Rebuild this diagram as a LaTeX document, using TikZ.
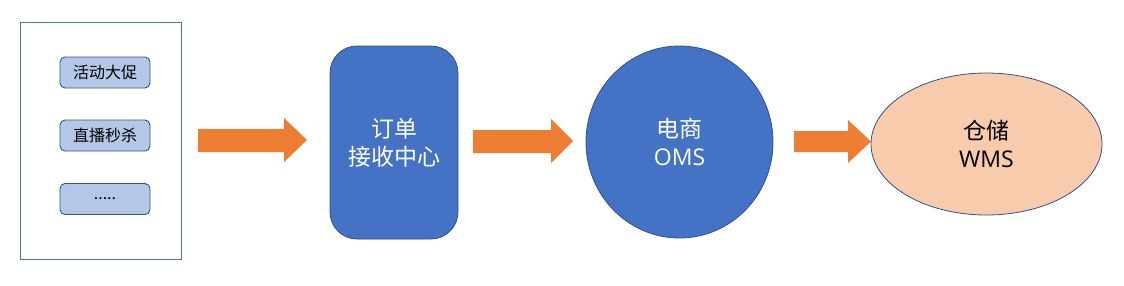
\documentclass[tikz,border=0pt]{standalone}
\usepackage{fontspec}
\setmainfont{Noto Sans CJK SC}
\newfontfamily\latinfont{Open Sans}
\usetikzlibrary{positioning}
\definecolor{boxblue}{HTML}{4472C4}
\definecolor{boxedge}{HTML}{2F528F}
\definecolor{lightblue}{HTML}{B4C7E7}
\definecolor{lightedge}{HTML}{2F5597}
\definecolor{orangearrow}{HTML}{ED7D31}
\definecolor{peach}{HTML}{F8CBAD}
\tikzset{
  smallbox/.style={draw=lightedge, fill=lightblue, line width=0.9pt, rounded corners=5pt,
    minimum width=90pt, minimum height=31pt, inner sep=0pt, font=\fontsize{16}{18}\selectfont},
  bigtext/.style={align=center, font=\fontsize{23}{28}\selectfont},
  blockarrow/.style={fill=orangearrow, draw=none}
}
\begin{document}
\begin{tikzpicture}[x=1pt,y=-1pt]
\useasboundingbox (0,0) rectangle (1124,285);
% container
\node[draw=boxblue, line width=0.8pt, minimum width=161pt, minimum height=237pt, inner sep=0pt] (frame) at (100.5,140.5) {};
\node[smallbox] (a1) at (105,72.5) {活动大促};
\node[smallbox] (a2) at (105,135.5) {直播秒杀};
\node[smallbox] (a3) at (105,199) {.....};
% arrow 1
\fill[blockarrow] (198,129) -- (284,129) -- (284,118) -- (307,140) -- (284,162) -- (284,152) -- (198,152) -- cycle;
% order center
\node[draw=boxedge, fill=boxblue, line width=0.8pt, rounded corners=27pt, minimum width=128pt, minimum height=193pt, inner sep=0pt] (rc) at (394,142.5) {};
\node[bigtext, text=white] (rct) at (rc.center) {订单\\接收中心};
% arrow 2
\fill[blockarrow] (473,130) -- (551,130) -- (551,119) -- (573,141) -- (551,163) -- (551,153) -- (473,153) -- cycle;
% OMS
\draw[draw=boxedge, fill=boxblue, line width=0.8pt] (679.5,142) ellipse [x radius=93.5, y radius=96];
\node[bigtext, text=white] (oms) at (679.5,142) {电商\\{\latinfont OMS}};
% arrow 3
\fill[blockarrow] (794,131) -- (848,131) -- (848,120) -- (871,141.5) -- (848,163) -- (848,152) -- (794,152) -- cycle;
% WMS
\draw[draw=boxedge, fill=peach, line width=0.8pt] (986.5,144) ellipse [x radius=115.5, y radius=71];
\node[bigtext, text=black] (wms) at (986.5,144) {仓储\\{\latinfont WMS}};
\end{tikzpicture}
\end{document}
